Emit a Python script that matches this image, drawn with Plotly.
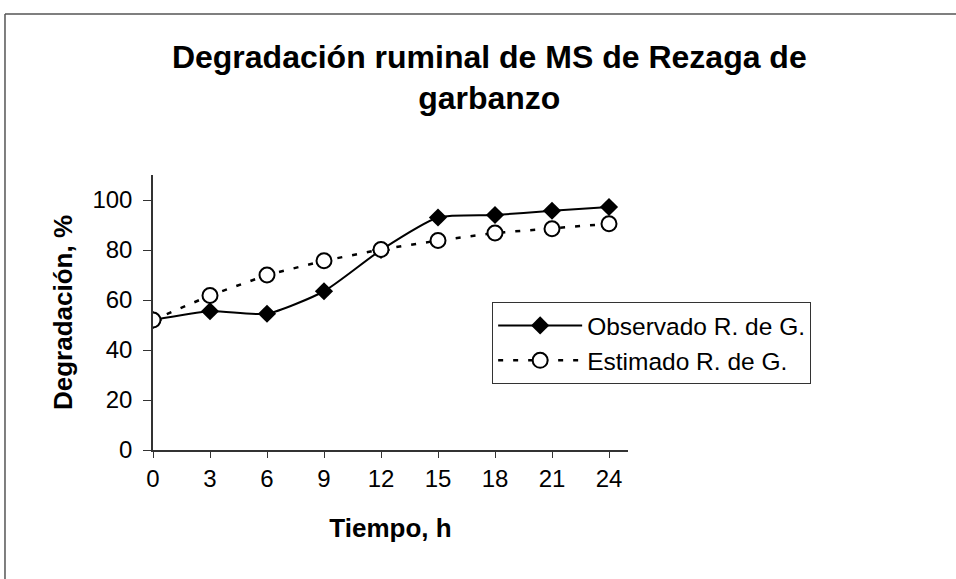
import plotly.graph_objects as go

tiempo = [0, 3, 6, 9, 12, 15, 18, 21, 24]
observado = [52, 55.5, 54.5, 63.5, 80, 93, 94, 95.7, 97.2]
estimado = [52, 61.8, 70, 75.7, 80.2, 83.8, 86.8, 88.5, 90.5]
x_ticks = [0, 3, 6, 9, 12, 15, 18, 21, 24]
y_ticks = [0, 20, 40, 60, 80, 100]

FONT = "Liberation Sans, Arial, sans-serif"

fig = go.Figure()
fig.add_trace(go.Scatter(
    x=tiempo, y=observado, name="Observado R. de G.",
    mode="lines+markers",
    line=dict(color="black", width=2, shape="spline", smoothing=0.6),
    marker=dict(symbol="diamond", size=14, color="black"),
))
fig.add_trace(go.Scatter(
    x=tiempo, y=estimado, name="Estimado R. de G.",
    mode="lines+markers",
    line=dict(color="black", width=2.5, dash="5px,10px"),
    marker=dict(symbol="circle", size=15, color="white",
                line=dict(color="black", width=2)),
))

fig.update_layout(
    width=956, height=579,
    margin=dict(l=153, r=328, t=175, b=129),
    paper_bgcolor="white", plot_bgcolor="white",
    font=dict(family=FONT, color="black", size=24),
    title=dict(text="<b>Degradación ruminal de MS de Rezaga de<br>garbanzo</b>",
               x=0.708, xanchor="center", y=0.883, yanchor="top",
               yref="container", xref="paper",
               font=dict(family=FONT, size=32, color="black")),
    showlegend=True,
    legend=dict(x=0.714, y=0.538, xanchor="left", yanchor="top",
                bordercolor="#333", borderwidth=1, bgcolor="white",
                font=dict(family=FONT, size=24.5, color="black"),
                itemwidth=84, tracegroupgap=0),
    xaxis=dict(range=[0, 25], tickvals=x_ticks, ticktext=[str(v) for v in x_ticks],
               showgrid=False, zeroline=False, showline=True, linecolor="#333",
               linewidth=1.5, ticks="outside", ticklen=6, tickcolor="#333",
               tickfont=dict(size=24),
               title=dict(text="<b>Tiempo, h</b>", font=dict(size=26), standoff=28)),
    yaxis=dict(range=[0, 110], tickvals=y_ticks, ticktext=[str(v) for v in y_ticks],
               showgrid=False, zeroline=False, showline=True, linecolor="#333",
               linewidth=1.5, ticks="outside", ticklen=8, tickcolor="#333",
               ticklabelstandoff=6,
               tickfont=dict(size=24),
               title=dict(text="<b>Degradación, %</b>", font=dict(size=26), standoff=12)),
    shapes=[
        dict(type="line", xref="paper", yref="paper", x0=-0.3116, x1=2.0,
             y0=1.5855, y1=1.5855, line=dict(color="#555", width=1.5)),
        dict(type="line", xref="paper", yref="paper", x0=-0.3116, x1=-0.3116,
             y0=1.5855, y1=-1.0, line=dict(color="#555", width=1.5)),
    ],
)

fig.write_html("out.html", config={"displayModeBar": False},
               post_script="document.body.style.margin='0';")
